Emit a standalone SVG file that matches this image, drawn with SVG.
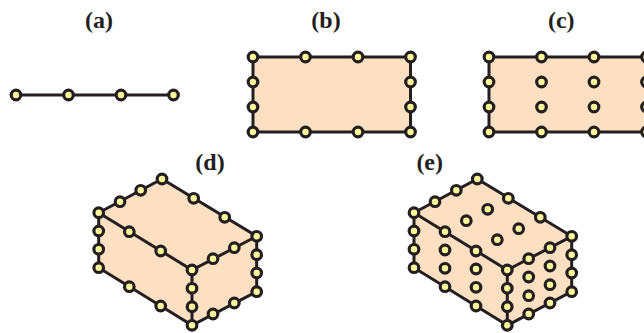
<svg xmlns="http://www.w3.org/2000/svg" width="644" height="333" viewBox="0 0 644 333">
<style>
.f{fill:#fddfc2;stroke:none}
.e{fill:none;stroke:#231f20;stroke-width:3;stroke-linejoin:miter}
.n circle{fill:#fff799;stroke:#231f20;stroke-width:3.200;r:4.800px}
.l{font-family:"Liberation Serif",serif;font-weight:bold;font-size:24px;fill:#231f20;text-anchor:middle}
</style>
<rect width="644" height="333" fill="#fff"/>
<g id="faces">
<rect class="f" x="253" y="57" width="157.500" height="75"/>
<rect class="f" x="489" y="57" width="157.500" height="75"/>
<path class="f" d="M98.700 212.700L162 179L256.700 236.300V291.700L192 325.300L98.700 267.700Z"/>
<path class="f" d="M414 212.700L477.300 179L571.700 236.300V291.700L507.300 325.300L414 267.700Z"/>
</g>
<g id="connectors">
<path class="e" d="M16 95H173.500"/>
<rect class="e" x="253" y="57" width="157.500" height="75"/>
<rect class="e" x="489" y="57" width="157.500" height="75"/>
<path class="e" d="M98.700 212.700L162 179L256.700 236.300V291.700L192 325.300L98.700 267.700ZL192 270L256.700 236.300M192 270V325.300"/>
<path class="e" d="M414 212.700L477.300 179L571.700 236.300V291.700L507.300 325.300L414 267.700ZL507.300 270L571.700 236.300M507.300 270V325.300"/>
</g>
<g id="fig-a" class="n">
<circle cx="16" cy="95" r="4.800"/><circle cx="68.500" cy="95" r="4.800"/><circle cx="121" cy="95" r="4.800"/><circle cx="173.500" cy="95" r="4.800"/>
</g>
<g id="fig-b" class="n">
<circle cx="253" cy="57" r="4.800"/><circle cx="305.500" cy="57" r="4.800"/><circle cx="358" cy="57" r="4.800"/><circle cx="410.500" cy="57" r="4.800"/>
<circle cx="253" cy="82" r="4.800"/><circle cx="410.500" cy="82" r="4.800"/>
<circle cx="253" cy="107" r="4.800"/><circle cx="410.500" cy="107" r="4.800"/>
<circle cx="253" cy="132" r="4.800"/><circle cx="305.500" cy="132" r="4.800"/><circle cx="358" cy="132" r="4.800"/><circle cx="410.500" cy="132" r="4.800"/>
</g>
<g id="fig-c" class="n">
<circle cx="489" cy="57" r="4.800"/><circle cx="541.500" cy="57" r="4.800"/><circle cx="594" cy="57" r="4.800"/><circle cx="646.500" cy="57" r="4.800"/>
<circle cx="489" cy="82" r="4.800"/><circle cx="541.500" cy="82" r="4.800"/><circle cx="594" cy="82" r="4.800"/><circle cx="646.500" cy="82" r="4.800"/>
<circle cx="489" cy="107" r="4.800"/><circle cx="541.500" cy="107" r="4.800"/><circle cx="594" cy="107" r="4.800"/><circle cx="646.500" cy="107" r="4.800"/>
<circle cx="489" cy="132" r="4.800"/><circle cx="541.500" cy="132" r="4.800"/><circle cx="594" cy="132" r="4.800"/><circle cx="646.500" cy="132" r="4.800"/>
</g>
<g id="fig-d" class="n">
<circle cx="98.700" cy="212.700" r="4.800"/><circle cx="120" cy="201.700" r="4.800"/><circle cx="140.700" cy="190.300" r="4.800"/><circle cx="162" cy="179" r="4.800"/>
<circle cx="193.700" cy="198.300" r="4.800"/><circle cx="224.700" cy="217.300" r="4.800"/><circle cx="256.700" cy="236.300" r="4.800"/>
<circle cx="234.300" cy="247.700" r="4.800"/><circle cx="213" cy="258.700" r="4.800"/><circle cx="192" cy="270" r="4.800"/>
<circle cx="129.300" cy="231.700" r="4.800"/><circle cx="160.700" cy="251" r="4.800"/>
<circle cx="98.700" cy="231" r="4.800"/><circle cx="98.700" cy="249.300" r="4.800"/><circle cx="98.700" cy="267.700" r="4.800"/>
<circle cx="256.700" cy="254.700" r="4.800"/><circle cx="256.700" cy="273" r="4.800"/><circle cx="256.700" cy="291.700" r="4.800"/>
<circle cx="192" cy="288.300" r="4.800"/><circle cx="192" cy="306.700" r="4.800"/><circle cx="192" cy="325.300" r="4.800"/>
<circle cx="129.300" cy="286.700" r="4.800"/><circle cx="160.700" cy="306" r="4.800"/>
<circle cx="213" cy="314" r="4.800"/><circle cx="234.300" cy="303" r="4.800"/>
</g>
<g id="fig-e" class="n">
<circle cx="414" cy="212.700" r="4.800"/><circle cx="435" cy="201.700" r="4.800"/><circle cx="456.300" cy="190.300" r="4.800"/><circle cx="477.300" cy="179" r="4.800"/>
<circle cx="508.300" cy="198.300" r="4.800"/><circle cx="540.300" cy="217.300" r="4.800"/><circle cx="571.700" cy="236.300" r="4.800"/>
<circle cx="550" cy="247.700" r="4.800"/><circle cx="528.700" cy="258.700" r="4.800"/><circle cx="507.300" cy="270" r="4.800"/>
<circle cx="445" cy="231.700" r="4.800"/><circle cx="476" cy="251" r="4.800"/>
<circle cx="414" cy="231" r="4.800"/><circle cx="414" cy="249.300" r="4.800"/><circle cx="414" cy="267.700" r="4.800"/>
<circle cx="571.700" cy="254.700" r="4.800"/><circle cx="571.700" cy="273" r="4.800"/><circle cx="571.700" cy="291.700" r="4.800"/>
<circle cx="507.300" cy="288.300" r="4.800"/><circle cx="507.300" cy="306.700" r="4.800"/><circle cx="507.300" cy="325.300" r="4.800"/>
<circle cx="445" cy="286.700" r="4.800"/><circle cx="476" cy="306" r="4.800"/>
<circle cx="528.700" cy="314" r="4.800"/><circle cx="550" cy="303" r="4.800"/>
<circle cx="466.300" cy="220.700" r="4.800"/><circle cx="487.700" cy="209.300" r="4.800"/><circle cx="497.300" cy="239.700" r="4.800"/><circle cx="518.700" cy="228.700" r="4.800"/>
<circle cx="445" cy="250" r="4.800"/><circle cx="445" cy="268.300" r="4.800"/><circle cx="476" cy="269" r="4.800"/><circle cx="476" cy="287.300" r="4.800"/>
<circle cx="528.700" cy="277" r="4.800"/><circle cx="528.700" cy="295.700" r="4.800"/><circle cx="550" cy="266" r="4.800"/><circle cx="550" cy="284.700" r="4.800"/>
</g>
<g id="labels">
<text class="l" x="99" y="28">(a)</text>
<text class="l" x="326" y="28">(b)</text>
<text class="l" x="561.300" y="28">(c)</text>
<text class="l" x="210" y="170">(d)</text>
<text class="l" x="429.700" y="170">(e)</text>
</g>
</svg>
